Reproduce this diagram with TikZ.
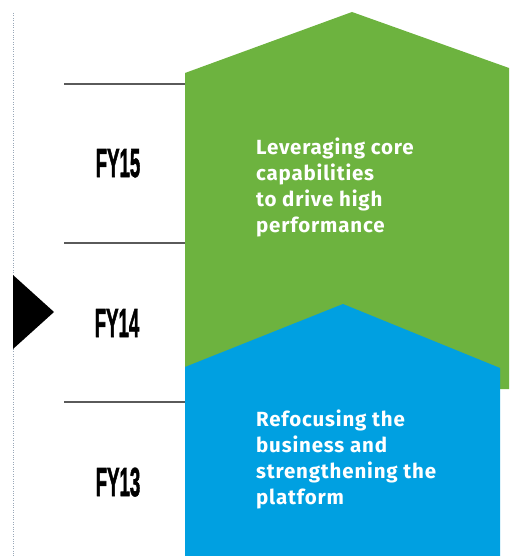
\documentclass[tikz,border=0pt]{standalone}
\usepackage{fontspec}
\usepackage{graphicx}
\setmainfont{Liberation Sans}
\newfontfamily\bodyfont{Fira Sans}[LetterSpace=4]
\newfontfamily\fyfont{Liberation Sans}[FakeBold=2]
\definecolor{dgreen}{HTML}{6DB33F}
\definecolor{dblue}{HTML}{00A0E1}
\definecolor{rulegray}{HTML}{5A5A5A}
\definecolor{dotgray}{HTML}{9AA8B8}
\tikzset{
  yearrule/.style={draw=rulegray, line width=1.4pt},
  yearlabel/.style={anchor=base, inner sep=0pt, font=\fyfont\bfseries\fontsize{40.5}{40.5}\selectfont},
  bodytext/.style={anchor=base west, inner sep=0pt, text=white, font=\bodyfont\bfseries\fontsize{20.5}{26}\selectfont},
}
\newcommand{\fy}[1]{\scalebox{0.46}[1]{#1}}
\newcommand{\bodybox}[1]{\parbox[t]{240pt}{\raggedright #1}}
\begin{document}
\begin{tikzpicture}[x=1pt,y=-1pt]
\useasboundingbox (0,0) rectangle (509,556);
% dotted guide
\coordinate (dtop) at (13,13);
\coordinate (dbot) at (13,556);
\draw[dotgray, line width=0.8pt, dash pattern=on 0.8pt off 1.6pt] (dtop) -- (dbot);
% rules
\coordinate (r1a) at (64,84);  \coordinate (r1b) at (186,84);
\coordinate (r2a) at (64,243); \coordinate (r2b) at (186,243);
\coordinate (r3a) at (64,402); \coordinate (r3b) at (186,402);
\draw[yearrule] (r1a) -- (r1b);
\draw[yearrule] (r2a) -- (r2b);
\draw[yearrule] (r3a) -- (r3b);
% green shape
\fill[dgreen] (185,73) -- (352,12) -- (509,68) -- (509,389) -- (185,389) -- cycle;
% blue shape
\fill[dblue] (185,367) -- (343,304) -- (500,368) -- (500,556) -- (185,556) -- cycle;
% marker triangle
\fill[black] (13,275) -- (54,312) -- (13,349) -- cycle;
% year labels
\node[yearlabel] (fy15) at (118,177) {\fy{FY15}};
\node[yearlabel] (fy14) at (117,337) {\fy{FY14}};
\node[yearlabel] (fy13) at (118,496) {\fy{FY13}};
% texts
\node[bodytext] (gtext) at (256,154) {\bodybox{Leveraging core\\capabilities\\to drive high\\performance}};
\node[bodytext] (btext) at (256,426) {\bodybox{Refocusing the\\business and\\strengthening the\\platform}};
\end{tikzpicture}
\end{document}
